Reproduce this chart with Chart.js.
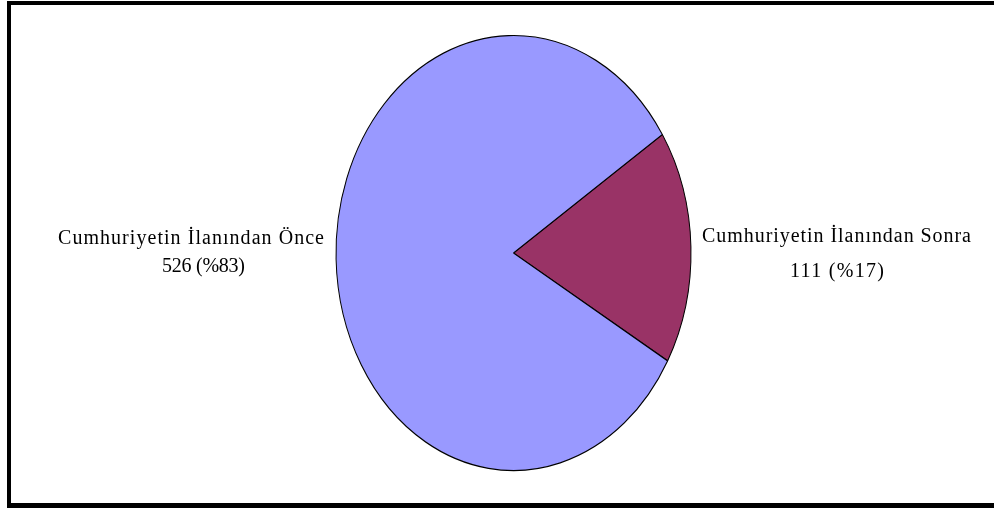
<!DOCTYPE html>
<html>
<head>
<meta charset="utf-8">
<script src="https://cdn.jsdelivr.net/npm/chart.js@4/dist/chart.umd.min.js"></script>
<style>
  html, body { margin: 0; padding: 0; background: #fff; }
  #wrap { position: relative; width: 994px; height: 508px; overflow: hidden; }
  #frame { position: absolute; left: 7px; top: 1px; right: 0; bottom: 0;
           border-top: 4px solid #000; border-left: 4px solid #000; border-bottom: 5px solid #000; }
  canvas { position: absolute; left: 0; top: 0; }
</style>
</head>
<body>
<div id="wrap">
  <canvas id="c" width="994" height="508"></canvas>
  <div id="frame"></div>
</div>
<script>
// Data
const categories = ['Cumhuriyetin İlanından Sonra', 'Cumhuriyetin İlanından Önce'];
const values = [111, 526];
const percentLabels = ['%17', '%83'];
const colors = ['#993366', '#9999FF'];

// Layout constants (not data)
const RX = 177.5, RY = 217.5;
const labelLayout = [
  { cx: 836.5, base1: 242, base2: 277, w1: 269, w2: 94, cx2: 837 },
  { cx: 191,   base1: 244, base2: 272, w1: 266, w2: 83, cx2: 203.5 }
];

const ellipsePlugin = {
  id: 'ellipse',
  beforeDatasetsDraw(chart) {
    const ctx = chart.ctx, a = chart.chartArea;
    const cx = (a.left + a.right) / 2, cy = (a.top + a.bottom) / 2;
    ctx.save();
    ctx.translate(cx, cy);
    ctx.scale(1, RY / RX);
    ctx.translate(-cx, -cy);
  },
  afterDatasetsDraw(chart) {
    chart.ctx.restore();
  }
};

function drawFit(ctx, text, cx, base, width) {
  ctx.letterSpacing = '0px';
  const m = ctx.measureText(text).width;
  const n = [...text].length;
  const ls = n > 1 ? (width - m) / (n - 1) : 0;
  ctx.letterSpacing = ls + 'px';
  ctx.textAlign = 'left';
  ctx.fillText(text, cx - width / 2, base);
  ctx.letterSpacing = '0px';
}

const labelPlugin = {
  id: 'labels',
  afterDraw(chart) {
    const ctx = chart.ctx;
    const ds = chart.data.datasets[0].data;
    ctx.save();
    ctx.fillStyle = '#000';
    ctx.textBaseline = 'alphabetic';
    ctx.font = '20px "Liberation Serif", "Times New Roman", serif';
    ds.forEach((v, i) => {
      const L = labelLayout[i];
      drawFit(ctx, chart.data.labels[i], L.cx, L.base1, L.w1);
      drawFit(ctx, v + ' (' + percentLabels[i] + ')', L.cx2, L.base2, L.w2);
    });
    ctx.restore();
  }
};

new Chart(document.getElementById('c'), {
  type: 'pie',
  data: {
    labels: categories,
    datasets: [{
      data: values,
      backgroundColor: colors,
      borderColor: '#000',
      borderWidth: 1,
      hoverOffset: 0
    }]
  },
  options: {
    responsive: false,
    animation: false,
    radius: RX,
    rotation: 57,
    layout: { padding: { left: 33, right: 0, top: 0, bottom: 2 } },
    plugins: { legend: { display: false }, tooltip: { enabled: false } },
    events: []
  },
  plugins: [ellipsePlugin, labelPlugin]
});
</script>
</body>
</html>
